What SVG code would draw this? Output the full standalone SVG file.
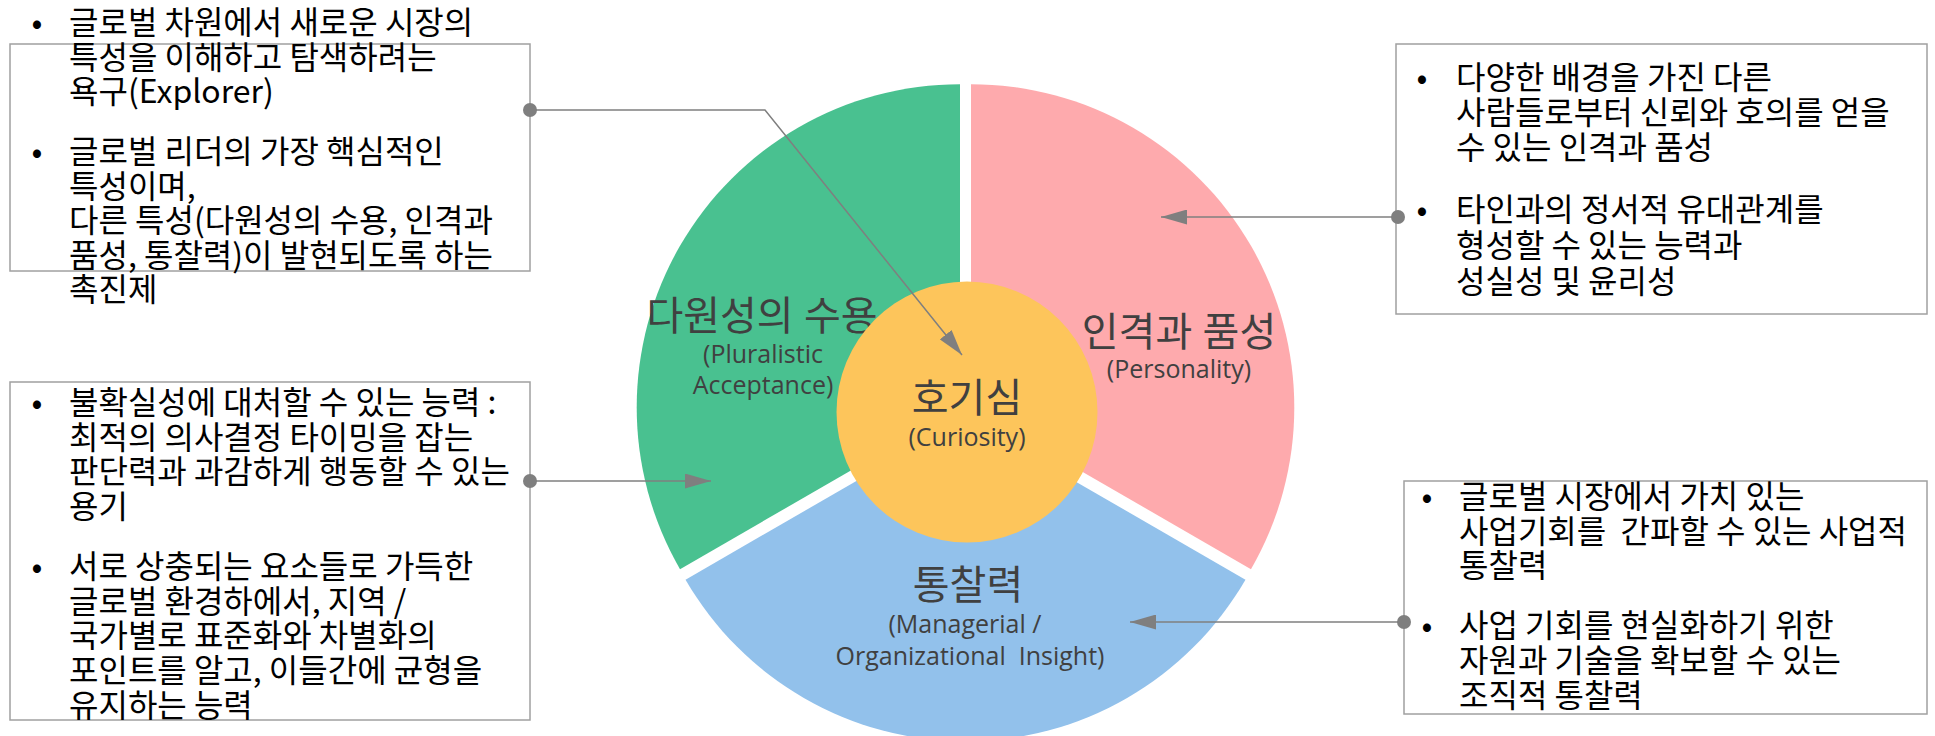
<svg xmlns="http://www.w3.org/2000/svg" width="1935" height="736" viewBox="0 0 1935 736">
  <defs>
    <marker id="arrow" markerUnits="userSpaceOnUse" markerWidth="26" markerHeight="15" refX="26" refY="7.5" orient="auto">
      <path d="M0,0 L26,7.5 L0,15 Z" fill="#7f7f7f"/>
    </marker>
    <style>
      .box { fill: none; stroke: #a0a0a0; stroke-width: 1.5; }
      .body { font-family: "Noto Sans CJK KR", "Noto Sans", sans-serif; font-size: 32px; fill: #000; }
      .bullet { text-anchor: middle; }
      .title { font-family: "Open Sans", "Noto Sans CJK KR", sans-serif; font-size: 40px; fill: #404040; text-anchor: middle; }
      .sub { font-family: "Open Sans", "Noto Sans CJK KR", sans-serif; font-size: 25px; fill: #404040; text-anchor: middle; }
      .conn { fill: none; stroke: #7f7f7f; stroke-width: 1.5; }
      .dot { fill: #7f7f7f; }
    </style>
  </defs>
  <rect width="1935" height="736" fill="#fff"/>

  <!-- exploded ring of three slices -->
  <g id="slice-pluralistic">
    <path d="M960,407.5 L960,84.2 A323.3,323.3 0 0 0 680.02,569.15 Z" fill="#49c190"/>
    <text class="title" x="762" y="330">다원성의 수용</text>
    <text class="sub" x="763" y="363">(Pluralistic</text>
    <text class="sub" x="763" y="394">Acceptance)</text>
  </g>
  <g id="slice-personality">
    <path d="M971,407.5 L971,84.2 A323.3,323.3 0 0 1 1250.98,569.15 Z" fill="#feaaad"/>
    <text class="title" x="1179" y="346">인격과 품성</text>
    <text class="sub" x="1179" y="378">(Personality)</text>
  </g>
  <g id="slice-insight">
    <path d="M965.5,418 L1245.48,579.65 A323.3,323.3 0 0 1 685.52,579.65 Z" fill="#92c1eb"/>
    <text class="title" x="968" y="599">통찰력</text>
    <text class="sub" x="965" y="633">(Managerial /</text>
    <text class="sub" x="970" y="665" xml:space="preserve">Organizational  Insight)</text>
  </g>
  <g id="core-curiosity">
    <circle cx="967" cy="412" r="130.5" fill="#fdc55b"/>
    <text class="title" x="967" y="412">호기심</text>
    <text class="sub" x="967" y="446">(Curiosity)</text>
  </g>

  <!-- description boxes -->
  <g id="box-curiosity">
    <rect class="box" x="10" y="44" width="520" height="227"/>
    <text class="body bullet" x="37" y="34">•</text>
    <text class="body" x="69" y="34">글로벌 차원에서 새로운 시장의</text>
    <text class="body" x="69" y="68.5">특성을 이해하고 탐색하려는</text>
    <text class="body" x="69" y="103">욕구(Explorer)</text>
    <text class="body bullet" x="37" y="163">•</text>
    <text class="body" x="69" y="163">글로벌 리더의 가장 핵심적인</text>
    <text class="body" x="69" y="197.5">특성이며,</text>
    <text class="body" x="69" y="232">다른 특성(다원성의 수용, 인격과</text>
    <text class="body" x="69" y="266.5">품성, 통찰력)이 발현되도록 하는</text>
    <text class="body" x="69" y="301.2">촉진제</text>
  </g>
  <g id="box-pluralistic">
    <rect class="box" x="10" y="382" width="520" height="338"/>
    <text class="body bullet" x="37" y="414">•</text>
    <text class="body" x="69" y="414">불확실성에 대처할 수 있는 능력 :</text>
    <text class="body" x="69" y="448.7">최적의 의사결정 타이밍을 잡는</text>
    <text class="body" x="69" y="483.4">판단력과 과감하게 행동할 수 있는</text>
    <text class="body" x="69" y="518.1">용기</text>
    <text class="body bullet" x="37" y="578">•</text>
    <text class="body" x="69" y="578">서로 상충되는 요소들로 가득한</text>
    <text class="body" x="69" y="612.7">글로벌 환경하에서, 지역 /</text>
    <text class="body" x="69" y="647.4">국가별로 표준화와 차별화의</text>
    <text class="body" x="69" y="682.1">포인트를 알고, 이들간에 균형을</text>
    <text class="body" x="69" y="716.8">유지하는 능력</text>
  </g>
  <g id="box-personality">
    <rect class="box" x="1396" y="44" width="531" height="270"/>
    <text class="body bullet" x="1422" y="89">•</text>
    <text class="body" x="1456" y="89">다양한 배경을 가진 다른</text>
    <text class="body" x="1456" y="124">사람들로부터 신뢰와 호의를 얻을</text>
    <text class="body" x="1456" y="159">수 있는 인격과 품성</text>
    <text class="body bullet" x="1422" y="221">•</text>
    <text class="body" x="1456" y="221">타인과의 정서적 유대관계를</text>
    <text class="body" x="1456" y="257">형성할 수 있는 능력과</text>
    <text class="body" x="1456" y="293">성실성 및 윤리성</text>
  </g>
  <g id="box-insight">
    <rect class="box" x="1404" y="481" width="523" height="233"/>
    <text class="body bullet" x="1427" y="508">•</text>
    <text class="body" x="1459" y="508">글로벌 시장에서 가치 있는</text>
    <text class="body" x="1459" y="542.7" xml:space="preserve">사업기회를  간파할 수 있는 사업적</text>
    <text class="body" x="1459" y="577.4">통찰력</text>
    <text class="body bullet" x="1427" y="637.4">•</text>
    <text class="body" x="1459" y="637.4">사업 기회를 현실화하기 위한</text>
    <text class="body" x="1459" y="672.1">자원과 기술을 확보할 수 있는</text>
    <text class="body" x="1459" y="706.8">조직적 통찰력</text>
  </g>

  <!-- connectors: dot on the box edge, arrow into the ring -->
  <g id="connectors">
    <polyline class="conn" points="530,110 765,110 962,355" marker-end="url(#arrow)"/>
    <circle class="dot" cx="530" cy="110" r="7"/>
    <line class="conn" x1="530" y1="481" x2="711" y2="481" marker-end="url(#arrow)"/>
    <circle class="dot" cx="530" cy="481" r="7"/>
    <line class="conn" x1="1398" y1="217" x2="1161" y2="217" marker-end="url(#arrow)"/>
    <circle class="dot" cx="1398" cy="217" r="7"/>
    <line class="conn" x1="1404" y1="622" x2="1130" y2="622" marker-end="url(#arrow)"/>
    <circle class="dot" cx="1404" cy="622" r="7"/>
  </g>
</svg>
